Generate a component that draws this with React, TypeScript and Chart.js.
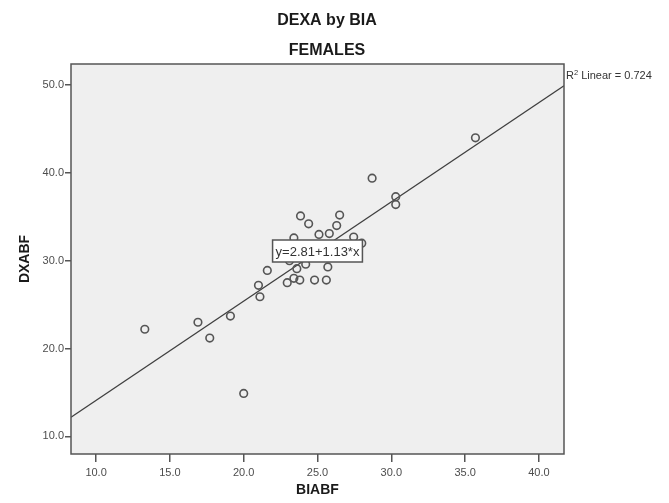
import React, { useEffect, useRef } from 'react';
import { Chart, registerables } from 'chart.js';

Chart.register(...registerables);

const TITLE = 'DEXA by BIA';
const SUBTITLE = 'FEMALES';
const X_LABEL = 'BIABF';
const Y_LABEL = 'DXABF';

const BIABF = [13.3, 16.9, 17.7, 19.1, 20.0, 21.0, 21.1, 21.6, 22.95, 23.4, 23.8, 23.1, 23.4, 23.6, 24.2, 23.85, 24.4, 24.8, 25.1, 25.6, 25.7, 25.8, 26.3, 26.5, 27.45, 28.0, 28.7, 30.3, 30.3, 35.7];
const DXABF = [22.2, 23.0, 21.2, 23.7, 14.9, 27.2, 25.9, 28.9, 27.5, 28.0, 27.8, 30.0, 32.6, 29.1, 29.6, 35.1, 34.2, 27.8, 33.0, 27.8, 29.3, 33.1, 34.0, 35.2, 32.7, 32.0, 39.4, 37.3, 36.4, 44.0];

const INTERCEPT = 2.81;
const SLOPE = 1.13;
const R2 = 0.724;

const X_MIN = 8.3;
const X_MAX = 41.7;
const Y_MIN = 8.0;
const Y_MAX = 52.4;
const X_TICKS = [10, 15, 20, 25, 30, 35, 40];
const Y_TICKS = [10, 20, 30, 40, 50];

const FONT = "'Liberation Sans', Arial, Helvetica, sans-serif";

const decorPlugin = {
  id: 'decor',
  beforeDraw(chart: any) {
    const { ctx, chartArea: a } = chart;
    ctx.save();
    ctx.fillStyle = '#ffffff';
    ctx.fillRect(0, 0, chart.width, chart.height);
    ctx.fillStyle = '#efefef';
    ctx.fillRect(a.left, a.top, a.right - a.left, a.bottom - a.top);
    ctx.restore();
  },
  afterDraw(chart: any) {
    const { ctx, chartArea: a } = chart;
    ctx.save();
    // frame
    ctx.strokeStyle = '#555555';
    ctx.lineWidth = 1.5;
    ctx.strokeRect(a.left, a.top, a.right - a.left, a.bottom - a.top);

    // equation box
    const eq = `y=${INTERCEPT.toFixed(2)}+${SLOPE.toFixed(2)}*x`;
    ctx.font = `13px ${FONT}`;
    const tw = ctx.measureText(eq).width;
    const cx = (a.left + a.right) / 2;
    const cy = (a.top + a.bottom) / 2 - 8;
    const bw = tw + 6;
    const bh = 22;
    ctx.fillStyle = '#ffffff';
    ctx.fillRect(cx - bw / 2, cy - bh / 2, bw, bh);
    ctx.strokeStyle = '#555555';
    ctx.lineWidth = 1.5;
    ctx.strokeRect(cx - bw / 2, cy - bh / 2, bw, bh);
    ctx.fillStyle = '#333333';
    ctx.textAlign = 'center';
    ctx.textBaseline = 'middle';
    ctx.fillText(eq, cx, cy + 1);

    // titles
    ctx.fillStyle = '#1a1a1a';
    ctx.font = `bold 16px ${FONT}`;
    ctx.fillText(TITLE, 327, 21);
    ctx.fillText(SUBTITLE, 327, 51);

    // axis titles
    ctx.font = `bold 14px ${FONT}`;
    ctx.fillText(X_LABEL, (a.left + a.right) / 2, 490);
    ctx.save();
    ctx.translate(25, (a.top + a.bottom) / 2);
    ctx.rotate(-Math.PI / 2);
    ctx.fillText(Y_LABEL, 0, 0);
    ctx.restore();

    // R² label
    ctx.fillStyle = '#333333';
    ctx.textAlign = 'left';
    ctx.textBaseline = 'alphabetic';
    let x = a.right + 2;
    const y = 79;
    ctx.font = `11px ${FONT}`;
    ctx.fillText('R', x, y);
    x += ctx.measureText('R').width;
    ctx.font = `7.5px ${FONT}`;
    ctx.fillText('2', x, y - 4);
    x += ctx.measureText('2').width;
    ctx.font = `11px ${FONT}`;
    ctx.fillText(` Linear = ${R2.toFixed(3)}`, x, y);
    ctx.restore();
  },
};

export default function App() {
  const ref = useRef<HTMLCanvasElement | null>(null);

  useEffect(() => {
    if (!ref.current) return;
    const points = BIABF.map((v, i) => ({ x: v, y: DXABF[i] }));
    const fit = [X_MIN, X_MAX].map((v) => ({ x: v, y: INTERCEPT + SLOPE * v }));

    const chart = new Chart(ref.current, {
      type: 'scatter',
      data: {
        datasets: [
          {
            label: 'Fit',
            data: fit,
            showLine: true,
            borderColor: '#3f3f3f',
            borderWidth: 1.3,
            pointRadius: 0,
            fill: false,
            order: 2,
          },
          {
            label: 'Females',
            data: points,
            pointRadius: 3.8,
            pointBorderWidth: 1.6,
            pointBorderColor: '#555555',
            pointBackgroundColor: 'rgba(0,0,0,0)',
            showLine: false,
            order: 1,
          },
        ],
      },
      options: {
        responsive: false,
        animation: false,
        layout: { padding: { left: 0, right: 105, top: 64, bottom: 0 } },
        plugins: {
          legend: { display: false },
          tooltip: { enabled: false },
          title: { display: false },
        },
        scales: {
          x: {
            type: 'linear',
            min: X_MIN,
            max: X_MAX,
            afterBuildTicks: (scale: any) => {
              scale.ticks = X_TICKS.map((v) => ({ value: v }));
            },
            afterFit: (scale: any) => {
              scale.height = 49;
            },
            border: { display: false },
            grid: {
              drawOnChartArea: false,
              drawTicks: true,
              tickLength: 8,
              color: '#555555',
              lineWidth: 1.5,
            },
            ticks: {
              callback: (v: any) => Number(v).toFixed(1),
              color: '#4d4d4d',
              font: { family: FONT, size: 11 },
              padding: 4,
              maxRotation: 0,
              autoSkip: false,
            },
          },
          y: {
            type: 'linear',
            min: Y_MIN,
            max: Y_MAX,
            afterBuildTicks: (scale: any) => {
              scale.ticks = Y_TICKS.map((v) => ({ value: v }));
            },
            afterFit: (scale: any) => {
              scale.width = 71;
            },
            border: { display: false },
            grid: {
              drawOnChartArea: false,
              drawTicks: true,
              tickLength: 6,
              color: '#555555',
              lineWidth: 1.5,
            },
            ticks: {
              callback: (v: any) => Number(v).toFixed(1),
              color: '#4d4d4d',
              font: { family: FONT, size: 11 },
              padding: 1,
              autoSkip: false,
            },
          },
        },
      },
      plugins: [decorPlugin],
    });
    return () => chart.destroy();
  }, []);

  return (
    <div style={{ position: 'absolute', left: 0, top: 0, width: 669, height: 503, background: '#ffffff' }}>
      <canvas ref={ref} width={669} height={503} style={{ display: 'block', width: 669, height: 503 }} />
    </div>
  );
}
